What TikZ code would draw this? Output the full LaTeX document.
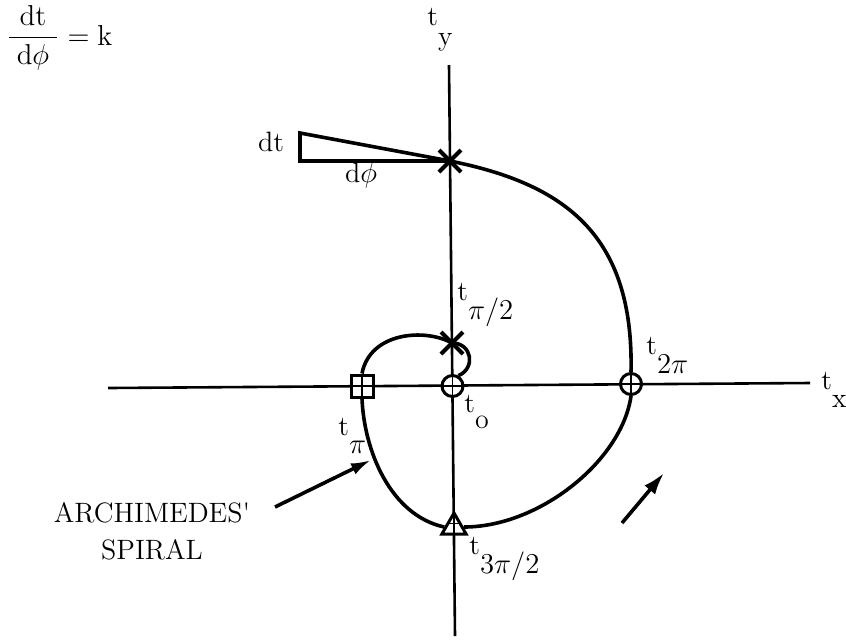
\documentclass[tikz,border=0pt]{standalone}
\usetikzlibrary{shapes.geometric,shapes.misc,arrows.meta}
\newcommand{\tlab}[2]{t\raisebox{-#2}{#1}}
\begin{document}
\begin{tikzpicture}[x=0.5pt,y=-0.5pt,
  font=\fontsize{14}{18.5}\selectfont,
  axis/.style={line width=1.3pt},
  spiral/.style={line width=1.8pt},
  plus/.style={path picture={\draw[line width=0.7pt]
    (path picture bounding box.north) -- (path picture bounding box.south)
    (path picture bounding box.west) -- (path picture bounding box.east);}},
  cmark/.style={circle, draw, fill=white, line width=1.5pt, minimum size=10.5pt, inner sep=0pt, plus},
  smark/.style={rectangle, draw, fill=white, line width=1.5pt, minimum size=11pt, inner sep=0pt, plus},
  tmark/.style={regular polygon, regular polygon sides=3, draw, fill=white, line width=1.5pt, minimum size=14pt, inner sep=0pt, plus},
  xmark/.style={cross out, draw, line width=2pt, minimum size=9pt, inner sep=0pt},
  lab/.style={anchor=base west, inner sep=0pt}]
  \useasboundingbox (0,0) rectangle (846,639);

  % axes
  \coordinate (ytop) at (449,65);
  \coordinate (ybot) at (455,636);
  \coordinate (xleft) at (108,388);
  \coordinate (xright) at (810,383);
  \draw[axis] (ytop) -- (ybot);
  \draw[axis] (xleft) -- (xright);

  % points on the spiral
  \node[cmark] (o) at (452.5,386) {};
  \node[xmark] (thalf) at (452,343) {};
  \node[smark] (tpi) at (362,386) {};
  \node[tmark] (tthree) at (454,527) {};
  \node[cmark] (ttwo) at (631,384) {};
  \node[xmark] (tfive) at (450,161) {};

  % the spiral
  \draw[spiral] (o.60) .. controls (476,368) and (472,343) .. (thalf.center)
    .. controls (425,328) and (370,332) .. (tpi.north);
  \draw[spiral] (tpi.south) .. controls (364,450) and (390,515) .. (tthree.west);
  \draw[spiral] (tthree.east) .. controls (540,527) and (622,460) .. (ttwo.south);
  \draw[spiral] (ttwo.north) .. controls (634,235) and (565,184) .. (tfive.center);

  % slope triangle
  \coordinate (dtop) at (300,133);
  \coordinate (dbot) at (300,161);
  \draw[spiral] (tfive.center) -- (dtop) -- (dbot) -- (tfive.center);
  \node (dtlab) at (271,142) {dt};
  \node (dphilab) at (361,175) {d$\phi$};

  % labels
  \node[anchor=west, inner sep=0pt] (rate) at (6,38) {$\displaystyle\frac{\;\mathrm{dt}\;}{\;\mathrm{d}\phi\;} = \mathrm{k}$};
  \node[lab] (ly) at (427,25) {\tlab{y}{10pt}};
  \node[lab] (lx) at (821,389) {\tlab{x}{9pt}};
  \node[lab] (lhalf) at (457,300) {\tlab{$\pi/2$}{9.5pt}};
  \node[lab] (lo) at (464,412) {\tlab{o}{8pt}};
  \node[lab] (lpi) at (338,435) {\tlab{$\pi$}{9pt}};
  \node[lab] (ltwo) at (646,354) {\tlab{$2\pi$}{9.5pt}};
  \node[lab] (lthree) at (469,554) {\tlab{$3\pi/2$}{9.5pt}};
  \node[align=center] (archlab) at (152,531) {ARCHIMEDES\textquotesingle\\SPIRAL};

  % arrows
  \coordinate (arrfrom) at (275,507);
  \coordinate (arrto) at (371,460);
  \draw[spiral,-{Latex[length=10pt,width=6pt]}] (arrfrom) -- (arrto);
  \coordinate (dira) at (622,523);
  \coordinate (dirb) at (664,473);
  \draw[spiral,-{Latex[length=11pt,width=7pt]}] (dira) -- (dirb);
\end{tikzpicture}
\end{document}
